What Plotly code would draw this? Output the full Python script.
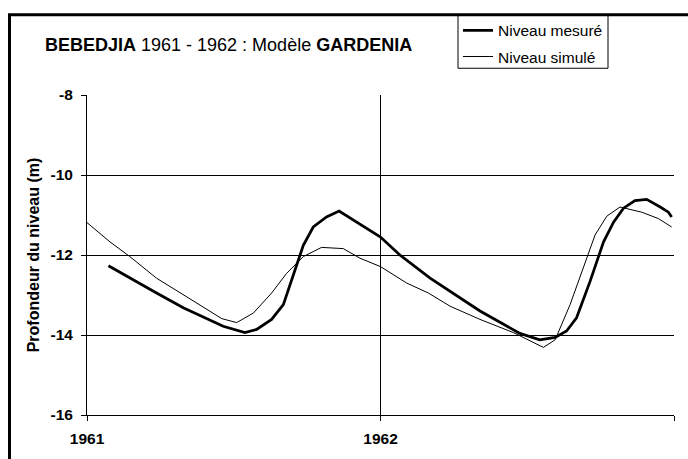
import plotly.graph_objects as go

# ---- data (decimal years, water level depth in m) ----
measured_t = [1961.073, 1961.146, 1961.237, 1961.328, 1961.464, 1961.538, 1961.578, 1961.629,
              1961.669, 1961.703, 1961.737, 1961.771, 1961.816, 1961.859, 1962.0, 1962.066,
              1962.169, 1962.339, 1962.475, 1962.543, 1962.595, 1962.634, 1962.668, 1962.714,
              1962.743, 1962.760, 1962.794, 1962.828, 1962.867, 1962.907, 1962.953, 1962.981,
              1962.992]
measured_v = [-12.27, -12.58, -12.95, -13.32, -13.78, -13.94, -13.86, -13.61,
              -13.24, -12.50, -11.76, -11.30, -11.05, -10.90, -11.55, -12.00,
              -12.58, -13.40, -13.96, -14.12, -14.06, -13.90, -13.57, -12.66,
              -12.00, -11.67, -11.18, -10.83, -10.64, -10.61, -10.80, -10.93,
              -11.05]

simulated_t = [1961.0, 1961.078, 1961.146, 1961.237, 1961.345, 1961.459, 1961.510, 1961.567,
               1961.629, 1961.680, 1961.737, 1961.799, 1961.873, 1961.930, 1962.0, 1962.089,
               1962.163, 1962.237, 1962.339, 1962.453, 1962.555, 1962.595, 1962.646, 1962.691,
               1962.731, 1962.771, 1962.816, 1962.890, 1962.947, 1962.992]
simulated_v = [-11.19, -11.67, -12.04, -12.58, -13.07, -13.59, -13.69, -13.45,
               -12.95, -12.46, -12.04, -11.81, -11.84, -12.08, -12.29, -12.70,
               -12.95, -13.28, -13.61, -13.94, -14.31, -14.12, -13.24, -12.29,
               -11.50, -11.03, -10.80, -10.93, -11.09, -11.30]

x_tickvals = [1961, 1962, 1963]
x_ticktext = ["1961", "1962", "1963"]
y_tickvals = [-16, -14, -12, -10, -8]
y_ticktext = ["-16", "-14", "-12", "-10", "-8"]

series_names = ["Niveau mesuré", "Niveau simulé"]
title_html = "<b>BEBEDJIA</b> 1961 - 1962 : Modèle <b>GARDENIA</b>"
y_title = "Profondeur du niveau (m)"

FONT = "Liberation Sans, Arial, sans-serif"

fig = go.Figure()
fig.add_trace(go.Scatter(x=measured_t, y=measured_v, mode="lines", name=series_names[0],
                         line=dict(color="black", width=2.75), legendgroup="a"))
fig.add_trace(go.Scatter(x=simulated_t, y=simulated_v, mode="lines", name=series_names[1],
                         line=dict(color="black", width=1), legendgroup="b"))

# body margin is removed below, so figure coords = page coords
W, H = 688, 459
# plot area: x 87..674, y 95..418
L, T = 87, 95
R = W - 674
B = H - 418
pw, ph = W - L - R, H - T - B


def px_x(p):  # px -> paper
    return (p - L) / pw


def px_y(p):
    return (H - B - p) / ph


fig.update_layout(
    width=W, height=H,
    margin=dict(l=L, r=R, t=T, b=B),
    paper_bgcolor="white", plot_bgcolor="white",
    font=dict(family=FONT, color="black"),
    showlegend=True,
    hovermode=False,
    dragmode=False,
    legend=dict(
        x=px_x(458), xanchor="left", y=px_y(13), yanchor="top",
        borderwidth=0, bgcolor="rgba(0,0,0,0)",
        font=dict(family=FONT, size=15.5, color="black"),
        tracegroupgap=3, traceorder="grouped",
        itemwidth=30,
    ),
    xaxis=dict(
        range=[1961, 1963], tickmode="array", tickvals=x_tickvals, ticktext=x_ticktext,
        showgrid=True, gridcolor="black", gridwidth=1,
        showline=True, linecolor="black", linewidth=1,
        ticks="outside", ticklen=5, tickcolor="black", ticklabelstandoff=4,
        tickfont=dict(family=FONT, size=15.5, weight="bold", color="black"),
        zeroline=False,
    ),
    yaxis=dict(
        range=[-16, -8], tickmode="array", tickvals=y_tickvals, ticktext=y_ticktext,
        showgrid=True, gridcolor="black", gridwidth=1,
        showline=True, linecolor="black", linewidth=1,
        ticks="outside", ticklen=5, tickcolor="black", ticklabelstandoff=5,
        tickfont=dict(family=FONT, size=15.5, weight="bold", color="black"),
        zeroline=False,
        title=dict(text=y_title, standoff=6,
                   font=dict(family=FONT, size=16, weight="bold", color="black")),
    ),
    annotations=[dict(
        text=title_html, xref="paper", yref="paper",
        x=px_x(43), xanchor="left", y=px_y(45), yanchor="middle",
        showarrow=False, font=dict(family=FONT, size=18, color="black"),
    )],
    shapes=[
        dict(type="rect", xref="paper", yref="paper",
             x0=px_x(9.5), x1=px_x(720), y0=px_y(500), y1=px_y(14),
             line=dict(color="black", width=3), layer="below"),
        dict(type="rect", xref="paper", yref="paper",
             x0=px_x(458), x1=px_x(608), y0=px_y(68), y1=px_y(14),
             line=dict(color="black", width=1), layer="above"),
    ],
)

fig.write_html(
    "out.html",
    config={"displayModeBar": False, "staticPlot": True},
    post_script="document.body.style.margin='0';document.body.style.overflow='hidden';",
)
